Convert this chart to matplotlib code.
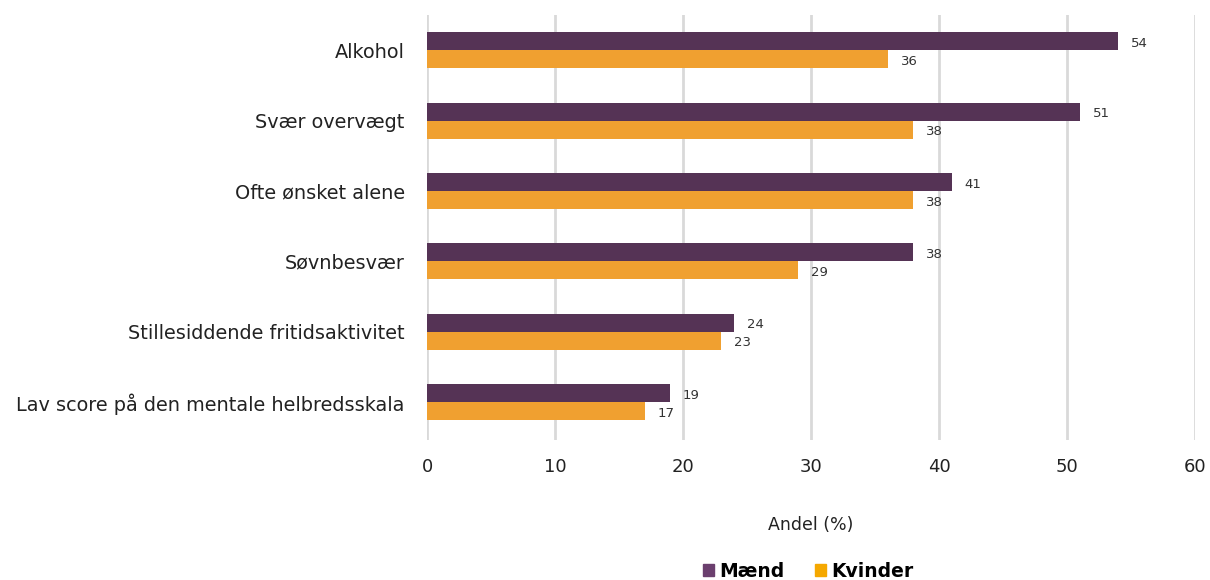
import matplotlib.pyplot as plt
from matplotlib.patches import Patch
import numpy as np

categories = ["Alkohol", "Svær overvægt", "Ofte ønsket alene", "Søvnbesvær",
              "Stillesiddende fritidsaktivitet", "Lav score på den mentale helbredsskala"]
maend = [54, 51, 41, 38, 24, 19]
kvinder = [36, 38, 38, 29, 23, 17]
xticks = [0, 10, 20, 30, 40, 50, 60]

c_maend = "#553355"
c_kvinder = "#f0a030"

plt.rcParams['font.family'] = ['DejaVu Sans']

fig = plt.figure(figsize=(12.1, 5.8), dpi=100)
ax = fig.add_axes([0.3529, 0.2414, 0.6347, 0.7327])

y = np.arange(len(categories))
h = 0.255
b1 = ax.barh(y - h / 2, maend, height=h, color=c_maend)
b2 = ax.barh(y + h / 2, kvinder, height=h, color=c_kvinder)

for bars, vals in [(b1, maend), (b2, kvinder)]:
    for bar, v in zip(bars, vals):
        ax.text(v + 1.0, bar.get_y() + bar.get_height() / 2 + 0.03, str(v),
                va="center", ha="left", fontsize=9.5, color="#333333")

ax.set_xlim(0, 60)
ax.set_ylim(len(categories) - 0.46, -0.5)
ax.set_xticks(xticks)
ax.set_yticks(y)
ax.set_yticklabels(categories, fontsize=13.9, color="#222222")
ax.tick_params(axis="x", labelsize=13, colors="#222222", length=0, pad=13)
ax.tick_params(axis="y", length=0, pad=16)
ax.xaxis.grid(True, color="#d9d9d9", linewidth=2)
ax.set_axisbelow(True)
for s in ax.spines.values():
    s.set_visible(False)

ax.set_xlabel("Andel (%)", fontsize=12.5, color="#222222", labelpad=29)

handles = [Patch(color="#6b3f6e", label="Mænd"), Patch(color="#f5a800", label="Kvinder")]
fig.legend(handles=handles, loc="lower center", bbox_to_anchor=(0.668, -0.03), ncol=2,
           frameon=False, prop={"weight": "bold", "size": 13.5}, handlelength=0.6,
           handleheight=0.6, handletextpad=0.3, columnspacing=1.6)

fig.savefig("out.png", dpi=100)
